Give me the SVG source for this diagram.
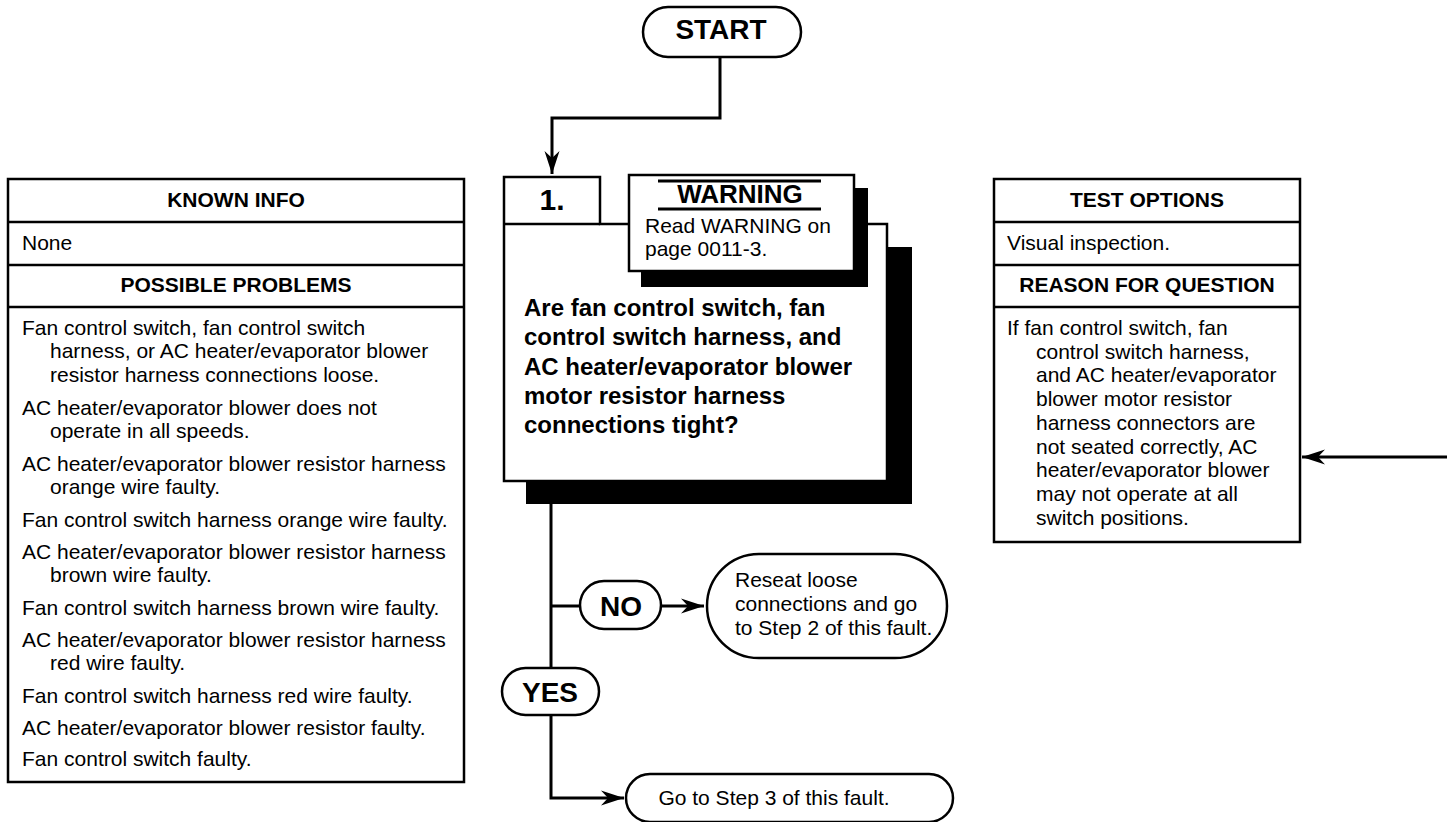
<svg xmlns="http://www.w3.org/2000/svg" width="1447" height="822" viewBox="0 0 1447 822">
<style>
text{font-family:"Liberation Sans",Arial,sans-serif;fill:#000}
.b{font-weight:bold}
.t21{font-size:21px}
.box{fill:#fff;stroke:#000;stroke-width:2.5}
.pill{fill:#fff;stroke:#000;stroke-width:2.5}
.shadow{fill:#000}
.conn{fill:none;stroke:#000;stroke-width:3}
.c{text-anchor:middle}
</style>
<defs>
<marker id="arr" markerUnits="userSpaceOnUse" markerWidth="30" markerHeight="20" viewBox="-24 -10 26 20" refX="0" refY="0" orient="auto">
<path d="M0,0 L-23,-7.5 L-16,0 L-23,7.5 Z" fill="#000"/>
</marker>
</defs>
<rect width="1447" height="822" fill="#fff"/>

<g id="connectors">
<path class="conn" d="M720,57 V118 H552 V174" marker-end="url(#arr)"/>
<path class="conn" d="M551,481 V668"/>
<path class="conn" d="M551,606 H580"/>
<path class="conn" d="M661,606 H704" marker-end="url(#arr)"/>
<path class="conn" d="M551,715 V798 H624" marker-end="url(#arr)"/>
<path class="conn" d="M1447,457 H1302" marker-end="url(#arr)"/>
</g>

<g id="start">
<rect class="pill" x="643" y="7" width="158" height="50" rx="25"/>
<text class="b c" x="721" y="39" font-size="28">START</text>
</g>

<g id="known-info">
<rect class="box" x="8" y="179" width="456" height="603"/>
<path d="M8,222 H464 M8,265 H464 M8,307 H464" stroke="#000" stroke-width="2.5"/>
<text class="b c t21" x="236" y="207">KNOWN INFO</text>
<text class="t21" x="22" y="250">None</text>
<text class="b c t21" x="236" y="292">POSSIBLE PROBLEMS</text>
<g class="t21">
<text x="22" y="335">Fan control switch, fan control switch</text>
<text x="50" y="358">harness, or AC heater/evaporator blower</text>
<text x="50" y="382">resistor harness connections loose.</text>
<text x="22" y="415">AC heater/evaporator blower does not</text>
<text x="50" y="438">operate in all speeds.</text>
<text x="22" y="471">AC heater/evaporator blower resistor harness</text>
<text x="50" y="494">orange wire faulty.</text>
<text x="22" y="527">Fan control switch harness orange wire faulty.</text>
<text x="22" y="559">AC heater/evaporator blower resistor harness</text>
<text x="50" y="582">brown wire faulty.</text>
<text x="22" y="615">Fan control switch harness brown wire faulty.</text>
<text x="22" y="647">AC heater/evaporator blower resistor harness</text>
<text x="50" y="670">red wire faulty.</text>
<text x="22" y="703">Fan control switch harness red wire faulty.</text>
<text x="22" y="735">AC heater/evaporator blower resistor faulty.</text>
<text x="22" y="766">Fan control switch faulty.</text>
</g>
</g>

<g id="step1">
<rect class="shadow" x="526" y="247" width="386" height="257"/>
<path class="box" d="M504,177 H600 V224 H887 V481 H504 Z"/>
<path d="M504,224 H600" stroke="#000" stroke-width="2.5"/>
<text class="b c" x="552" y="210" font-size="30">1.</text>
<g class="b" font-size="24">
<text x="524" y="316">Are fan control switch, fan</text>
<text x="524" y="345">control switch harness, and</text>
<text x="524" y="375">AC heater/evaporator blower</text>
<text x="524" y="404">motor resistor harness</text>
<text x="524" y="433">connections tight?</text>
</g>
</g>

<g id="warning">
<rect class="shadow" x="641" y="188" width="227" height="99"/>
<rect class="box" x="629" y="175" width="225" height="96"/>
<path d="M658,181 H821 M658,209 H821" stroke="#000" stroke-width="3"/>
<text class="b c" x="740" y="203" font-size="26">WARNING</text>
<text class="t21" x="645" y="233">Read WARNING on</text>
<text class="t21" x="645" y="256">page 0011-3.</text>
</g>

<g id="test-options">
<rect class="box" x="994" y="179" width="306" height="363"/>
<path d="M994,222 H1300 M994,265 H1300 M994,307 H1300" stroke="#000" stroke-width="2.5"/>
<text class="b c t21" x="1147" y="207">TEST OPTIONS</text>
<text class="t21" x="1007" y="250">Visual inspection.</text>
<text class="b c t21" x="1147" y="292">REASON FOR QUESTION</text>
<g class="t21">
<text x="1007" y="335">If fan control switch, fan</text>
<text x="1036" y="359">control switch harness,</text>
<text x="1036" y="382">and AC heater/evaporator</text>
<text x="1036" y="406">blower motor resistor</text>
<text x="1036" y="430">harness connectors are</text>
<text x="1036" y="454">not seated correctly, AC</text>
<text x="1036" y="477">heater/evaporator blower</text>
<text x="1036" y="501">may not operate at all</text>
<text x="1036" y="525">switch positions.</text>
</g>
</g>

<g id="no">
<rect class="pill" x="580" y="581" width="81" height="48" rx="24"/>
<text class="b c" x="621" y="616" font-size="28">NO</text>
</g>

<g id="reseat">
<rect class="pill" x="707" y="554" width="240" height="104" rx="52"/>
<text class="t21" x="735" y="587">Reseat loose</text>
<text class="t21" x="735" y="611">connections and go</text>
<text class="t21" x="735" y="635">to Step 2 of this fault.</text>
</g>

<g id="yes">
<rect class="pill" x="502" y="668" width="97" height="47" rx="23.5"/>
<text class="b c" x="550" y="702" font-size="28">YES</text>
</g>

<g id="step3">
<rect class="pill" x="626" y="774" width="327" height="48" rx="24"/>
<text class="t21 c" x="774" y="805">Go to Step 3 of this fault.</text>
</g>
</svg>
